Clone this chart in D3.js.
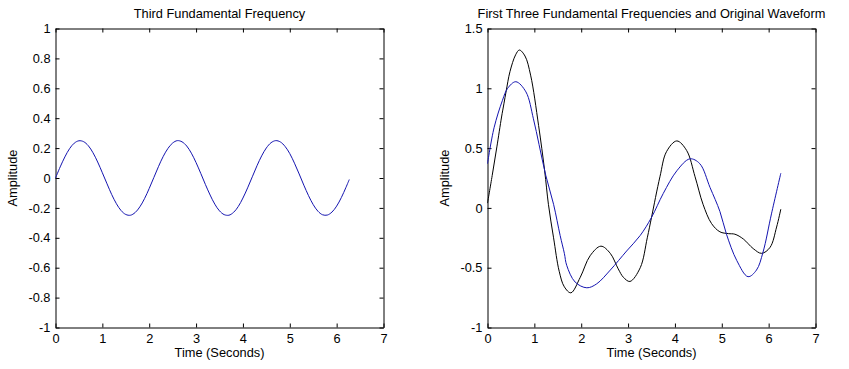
<!DOCTYPE html>
<html>
<head>
<meta charset="utf-8">
<script src="https://cdn.jsdelivr.net/npm/d3@7"></script>
<style>
  html, body { margin: 0; padding: 0; background: #ffffff; }
  svg { display: block; }
  text { font-family: "Liberation Sans", Arial, Helvetica, sans-serif; }
</style>
</head>
<body>
<svg id="chart" width="849" height="369"></svg>
<script>
// ---------- data ----------
const titles = ["Third Fundamental Frequency",
                "First Three Fundamental Frequencies and Original Waveform"];
const xLabel = "Time (Seconds)";
const yLabel = "Amplitude";
const xTicks = [0, 1, 2, 3, 4, 5, 6, 7];
const yTicksLeft = [-1, -0.8, -0.6, -0.4, -0.2, 0, 0.2, 0.4, 0.6, 0.8, 1];
const yTicksRight = [-1, -0.5, 0, 0.5, 1, 1.5];

// Left panel: third fundamental (blue)
const thirdT = [0, 0.1, 0.2, 0.3, 0.4, 0.5, 0.6, 0.7, 0.8, 0.9, 1.0, 1.1, 1.2, 1.3, 1.4, 1.5,
  1.6, 1.7, 1.8, 1.9, 2.0, 2.1, 2.2, 2.3, 2.4, 2.5, 2.6, 2.7, 2.8, 2.9, 3.0, 3.1, 3.2, 3.3,
  3.4, 3.5, 3.6, 3.7, 3.8, 3.9, 4.0, 4.1, 4.2, 4.3, 4.4, 4.5, 4.6, 4.7, 4.8, 4.9, 5.0, 5.1,
  5.2, 5.3, 5.4, 5.5, 5.6, 5.7, 5.8, 5.9, 6.0, 6.1, 6.2, 6.27];
const thirdV = [0, 0.074, 0.141, 0.196, 0.233, 0.249, 0.243, 0.216, 0.169, 0.107, 0.035,
  -0.039, -0.111, -0.172, -0.218, -0.244, -0.249, -0.231, -0.193, -0.138, -0.070, 0.004,
  0.078, 0.145, 0.198, 0.234, 0.250, 0.242, 0.214, 0.166, 0.103, 0.031, -0.044, -0.114,
  -0.175, -0.220, -0.245, -0.249, -0.230, -0.191, -0.134, -0.066, 0.008, 0.082, 0.148,
  0.201, 0.236, 0.250, 0.241, 0.211, 0.163, 0.099, 0.027, -0.048, -0.118, -0.178, -0.222,
  -0.246, -0.248, -0.228, -0.188, -0.131, -0.062, -0.01];

// Right panel: original waveform (black)
const origT = [0, 0.1, 0.2, 0.3, 0.35, 0.4, 0.48, 0.6, 0.68, 0.8, 0.92, 1.09, 1.22, 1.30,
  1.41, 1.53, 1.64, 1.78, 1.98, 2.19, 2.42, 2.62, 2.79, 2.90, 3.04, 3.26, 3.41, 3.50, 3.68,
  3.82, 4.04, 4.25, 4.43, 4.60, 4.78, 4.96, 5.14, 5.28, 5.46, 5.67, 5.85, 6.03, 6.17, 6.26];
const origV = [0.04, 0.27, 0.51, 0.76, 0.87, 0.98, 1.14, 1.28, 1.32, 1.27, 1.11, 0.69,
  0.31, 0.03, -0.25, -0.53, -0.66, -0.71, -0.58, -0.40, -0.32, -0.38, -0.51, -0.58, -0.615,
  -0.50, -0.25, -0.08, 0.26, 0.47, 0.56, 0.48, 0.26, 0.03, -0.13, -0.20, -0.215, -0.22,
  -0.26, -0.34, -0.38, -0.33, -0.16, -0.01];

// Right panel: sum of first three fundamentals (blue)
const sumT = [0, 0.14, 0.32, 0.43, 0.605, 0.82, 0.98, 1.1, 1.245, 1.41, 1.55, 1.64, 1.69,
  1.87, 2.12, 2.33, 2.62, 2.97, 3.26, 3.50, 3.75, 4.04, 4.32, 4.53, 4.75, 4.96, 5.10, 5.32,
  5.56, 5.74, 5.88, 6.06, 6.26];
const sumV = [0.37, 0.67, 0.90, 1.00, 1.055, 0.97, 0.745, 0.53, 0.27, 0.03, -0.23, -0.38,
  -0.48, -0.62, -0.668, -0.635, -0.52, -0.36, -0.23, -0.08, 0.12, 0.31, 0.41, 0.37, 0.17,
  -0.03, -0.22, -0.44, -0.575, -0.52, -0.37, -0.05, 0.29];

// ---------- drawing ----------
const svg = d3.select("#chart");
svg.append("rect").attr("width", 849).attr("height", 369).attr("fill", "#ffffff");

const BLUE = "#1414b0";
const FONT = 12.8;

// MATLAB-style labels with an ASCII hyphen for negatives
function fmt(v) { return String(+(+v).toFixed(2)); }

function panel(cfg) {
  const x = d3.scaleLinear().domain([0, 7]).range([cfg.left, cfg.right]);
  const y = d3.scaleLinear().domain(cfg.yDomain).range([cfg.bottom, cfg.top]);
  const g = svg.append("g");

  const axB = g.append("g").attr("transform", `translate(0,${cfg.bottom})`)
    .call(d3.axisBottom(x).tickValues(xTicks).tickSize(-4).tickSizeOuter(0)
      .tickPadding(6).tickFormat(fmt));
  const axT = g.append("g").attr("transform", `translate(0,${cfg.top})`)
    .call(d3.axisTop(x).tickValues(xTicks).tickSize(-4).tickSizeOuter(0).tickFormat(""));
  const axL = g.append("g").attr("transform", `translate(${cfg.left},0)`)
    .call(d3.axisLeft(y).tickValues(cfg.yTicks).tickSize(-4).tickSizeOuter(0)
      .tickPadding(5).tickFormat(fmt));
  const axR = g.append("g").attr("transform", `translate(${cfg.right},0)`)
    .call(d3.axisRight(y).tickValues(cfg.yTicks).tickSize(-4).tickSizeOuter(0).tickFormat(""));

  [axB, axT, axL, axR].forEach(a => {
    a.selectAll("path, line").attr("stroke", "#000").attr("stroke-width", 1);
    a.selectAll("text").attr("fill", "#000").style("font-size", FONT + "px")
      .style("font-family", '"Liberation Sans", Arial, sans-serif');
  });

  const line = d3.line().x(d => x(d[0])).y(d => y(d[1])).curve(d3.curveCatmullRom.alpha(0.5));
  cfg.series.forEach(s => {
    const pts = s.t.map((t, i) => [t, s.v[i]]);
    g.append("path").datum(pts).attr("d", line)
      .attr("fill", "none").attr("stroke", s.color).attr("stroke-width", 1);
  });

  const cx = (cfg.left + cfg.right) / 2;
  g.append("text").attr("x", cx).attr("y", 18).attr("text-anchor", "middle")
    .style("font-size", FONT + "px").text(cfg.title);
  g.append("text").attr("x", cx).attr("y", 357).attr("text-anchor", "middle")
    .style("font-size", FONT + "px").text(xLabel);
  const ly = (cfg.top + cfg.bottom) / 2;
  g.append("text").attr("transform", `translate(${cfg.left - 38.5},${ly}) rotate(-90)`)
    .attr("text-anchor", "middle").style("font-size", FONT + "px").text(yLabel);
}

panel({
  left: 55.5, right: 383.5, top: 28.5, bottom: 327.5,
  yDomain: [-1, 1], yTicks: yTicksLeft, title: titles[0],
  series: [{ t: thirdT, v: thirdV, color: BLUE }]
});

panel({
  left: 487.5, right: 815.5, top: 28.5, bottom: 327.5,
  yDomain: [-1, 1.5], yTicks: yTicksRight, title: titles[1],
  series: [
    { t: origT, v: origV, color: "#000000" },
    { t: sumT, v: sumV, color: BLUE }
  ]
});
</script>
</body>
</html>
